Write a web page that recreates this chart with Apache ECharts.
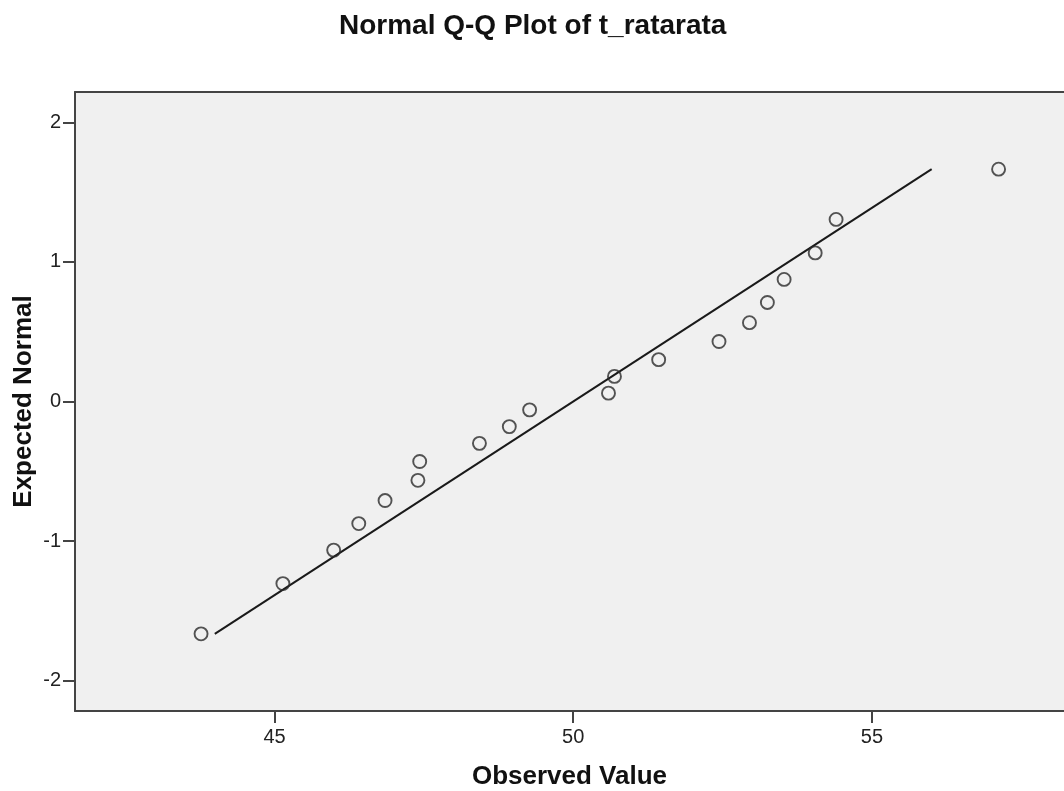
<!DOCTYPE html>
<html>
<head>
<meta charset="utf-8">
<script src="https://cdn.jsdelivr.net/npm/echarts@6/dist/echarts.min.js"></script>
<style>
    html, body { margin: 0; padding: 0; background: #fff; }
    #chart { width: 1064px; height: 791px; }
</style>
</head>
<body>
<div id="chart"></div>
<script>
    // observed values (x) and expected normal (y)
    var observed = [43.77, 45.14, 45.99, 46.41, 46.85, 47.40, 47.43, 48.43, 48.93, 49.27,
                    50.59, 50.69, 51.43, 52.44, 52.95, 53.25, 53.53, 54.05, 54.40, 57.12];
    var expected = [-1.665, -1.305, -1.065, -0.875, -0.71, -0.565, -0.43, -0.30, -0.18, -0.06,
                    0.06, 0.18, 0.30, 0.43, 0.565, 0.71, 0.875, 1.065, 1.305, 1.665];
    // reference line end points
    var lineX = [44, 56];
    var lineY = [-1.665, 1.665];
    var xTicks = [45, 50, 55];
    var yTicks = [-2, -1, 0, 1, 2];

    var font = '"Liberation Sans", Arial, sans-serif';
    var chart = echarts.init(document.getElementById('chart'));

    var points = observed.map(function (v, i) { return [v, expected[i]]; });
    var line = lineX.map(function (v, i) { return [v, lineY[i]]; });

    var xMin = 41.66, xMax = 58.215;

    var option = {
        animation: false,
        title: {
            text: 'Normal Q-Q Plot of t_ratarata',
            left: 334,
            top: 7,
            textStyle: { fontFamily: font, fontSize: 28, fontWeight: 'bold', color: '#111' }
        },
        grid: {
            left: 75,
            top: 92,
            right: 0,
            bottom: 80,
            outerBoundsMode: 'none',
            show: true,
            backgroundColor: '#f0f0f0',
            borderWidth: 0
        },
        xAxis: [{
            type: 'value',
            min: xMin,
            max: xMax,
            name: 'Observed Value',
            nameLocation: 'middle',
            nameGap: 53,
            nameTextStyle: { fontFamily: font, fontSize: 26, fontWeight: 'bold', color: '#111' },
            axisLine: { show: true, onZero: false, lineStyle: { color: '#444', width: 2 } },
            axisTick: { show: true, customValues: xTicks, length: 12, lineStyle: { color: '#444', width: 2 } },
            axisLabel: { customValues: xTicks, margin: 16, fontFamily: font, fontSize: 20, color: '#222' },
            splitLine: { show: false }
        }, {
            // top frame line only
            type: 'value',
            position: 'top',
            min: xMin,
            max: xMax,
            axisLine: { show: true, onZero: false, lineStyle: { color: '#444', width: 2 } },
            axisTick: { show: false },
            axisLabel: { show: false },
            splitLine: { show: false }
        }],
        yAxis: {
            type: 'value',
            min: -2.218,
            max: 2.218,
            name: 'Expected Normal',
            nameLocation: 'middle',
            nameGap: 38,
            nameMoveOverlap: false,
            nameTextStyle: { fontFamily: font, fontSize: 26, fontWeight: 'bold', color: '#111' },
            axisLine: { show: true, onZero: false, lineStyle: { color: '#444', width: 2 } },
            axisTick: { show: true, customValues: yTicks, length: 12, lineStyle: { color: '#444', width: 2 } },
            axisLabel: { customValues: yTicks, margin: 14, fontFamily: font, fontSize: 20, color: '#222' },
            splitLine: { show: false }
        },
        series: [
            {
                type: 'line',
                data: line,
                symbol: 'none',
                lineStyle: { color: '#1a1a1a', width: 2 },
                z: 2
            },
            {
                type: 'scatter',
                data: points,
                symbol: 'circle',
                symbolSize: 13,
                itemStyle: { color: 'rgba(0,0,0,0)', borderColor: '#2a2a2a', borderWidth: 1.9 },
                z: 3
            }
        ]
    };
    chart.setOption(option);
</script>
</body>
</html>
